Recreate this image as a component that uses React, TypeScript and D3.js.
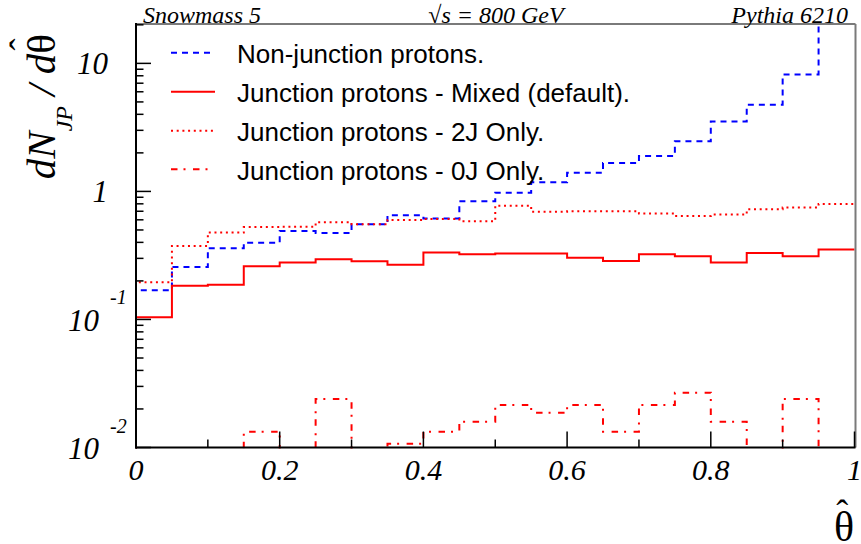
import React from "react";
import * as d3 from "d3";

const binEdges = [0, 0.05, 0.1, 0.15, 0.2, 0.25, 0.3, 0.35, 0.4, 0.45, 0.5, 0.55, 0.6, 0.65, 0.7, 0.75, 0.8, 0.85, 0.9, 0.95, 1.0];

const nonJunction = [0.169, 0.257, 0.36, 0.398, 0.491, 0.474, 0.553, 0.651, 0.614, 0.837, 0.978, 1.18, 1.4, 1.666, 1.89, 2.46, 3.52, 4.75, 8.19, 30];
const mixed = [0.104, 0.183, 0.187, 0.26, 0.279, 0.295, 0.285, 0.268, 0.333, 0.323, 0.328, 0.328, 0.304, 0.286, 0.323, 0.312, 0.279, 0.331, 0.312, 0.352];
const twoJOnly = [0.195, 0.375, 0.477, 0.528, 0.53, 0.574, 0.553, 0.598, 0.609, 0.586, 0.774, 0.694, 0.7, 0.7, 0.671, 0.643, 0.659, 0.725, 0.748, 0.798];
const zeroJOnly = [0, 0, 0, 0.0133, 0, 0.0239, 0, 0.0107, 0.0133, 0.0159, 0.0215, 0.0187, 0.0215, 0.0133, 0.0215, 0.0268, 0.0159, 0, 0.0239, 0];

const legendLabels = [
  "Non-junction protons.",
  "Junction protons - Mixed (default).",
  "Junction protons - 2J Only.",
  "Junction protons - 0J Only.",
];

const xTickValues = [0, 0.2, 0.4, 0.6, 0.8, 1];
const xTickLabels = ["0", "0.2", "0.4", "0.6", "0.8", "1"];
const xMinorTicks = [0.1, 0.3, 0.5, 0.7, 0.9];

const yTickValues = [0.01, 0.1, 1, 10];
const yTickBase = ["10", "10", "1", "10"];
const yTickExp = ["-2", "-1", "", ""];

const headerLeft = "Snowmass 5";
const headerMid = "\u221As = 800 GeV";
const headerRight = "Pythia 6210";

const W = 861;
const H = 544;
const X0 = 136;
const X1 = 854.5;
const Y0 = 24;
const Y1 = 447.5;

const SERIF = "'Liberation Serif', 'Times New Roman', serif";
const SANS = "'Liberation Sans', Arial, sans-serif";

export default function App() {
  const x = d3.scaleLinear().domain([0, 1]).range([X0, X1]);
  const y = d3.scaleLog().domain([0.01, 20.3]).range([Y1, Y0]).clamp(true);

  const yv = (v: number) => (v > 0 ? y(v) : Y1 + 3);

  const histPath = (vals: number[]) => {
    let d = `M${x(binEdges[0])},${Y1 + 3}`;
    vals.forEach((v, i) => {
      d += `V${yv(v)}H${x(binEdges[i + 1])}`;
    });
    return d;
  };

  const series = [
    { vals: nonJunction, color: "#0000ff", dash: "6,5" },
    { vals: mixed, color: "#ff0000", dash: "none" },
    { vals: twoJOnly, color: "#ff0000", dash: "2,3.7" },
    { vals: zeroJOnly, color: "#ff0000", dash: "6.5,6,2,7.5" },
  ];

  const yMinor: number[] = [];
  [0.01, 0.1, 1, 10].forEach((dec) => {
    for (let k = 2; k <= 9; k++) {
      const v = dec * k;
      if (v <= 20.3) yMinor.push(v);
    }
  });

  const legendRowY = [52.7, 91.7, 130.7, 169.3];

  return (
    <svg
      width={W}
      height={H}
      style={{ position: "absolute", left: 0, top: 0, background: "#fff" }}
    >
      <defs>
        <clipPath id="frameClip">
          <rect x={X0} y={Y0} width={X1 - X0 + 1} height={Y1 - Y0 + 1} />
        </clipPath>
      </defs>
      <rect x={0} y={0} width={W} height={H} fill="#fff" />

      <g clipPath="url(#frameClip)" fill="none">
        {series.map((s, i) => (
          <path
            key={i}
            d={histPath(s.vals)}
            stroke={s.color}
            strokeWidth={2}
            strokeDasharray={s.dash}
          />
        ))}
      </g>

      <line x1={X0} y1={Y0} x2={X1 + 1} y2={Y0} stroke="#7a7a7a" strokeWidth={2} />
      <line x1={X1 + 1} y1={Y0} x2={X1 + 1} y2={Y1} stroke="#7a7a7a" strokeWidth={2} />

      <line x1={X0} y1={Y0 - 1} x2={X0} y2={Y1 + 1} stroke="#000" strokeWidth={2} />
      <line x1={X0 - 1} y1={Y1} x2={X1 + 1} y2={Y1} stroke="#000" strokeWidth={2} />

      {yTickValues.map((v) => (
        <line key={"ym" + v} x1={X0} x2={X0 + 15} y1={y(v)} y2={y(v)} stroke="#000" strokeWidth={1.5} />
      ))}
      {yMinor.map((v) => (
        <line key={"yn" + v} x1={X0} x2={X0 + 7.5} y1={y(v)} y2={y(v)} stroke="#000" strokeWidth={1.5} />
      ))}

      {xTickValues.map((v) => (
        <line key={"xm" + v} x1={x(v)} x2={x(v)} y1={Y1} y2={Y1 - 16} stroke="#000" strokeWidth={1.5} />
      ))}
      {xMinorTicks.map((v) => (
        <line key={"xn" + v} x1={x(v)} x2={x(v)} y1={Y1} y2={Y1 - 8} stroke="#000" strokeWidth={1.5} />
      ))}

      <g fontFamily={SERIF} fontStyle="italic" fill="#000">
        {yTickValues.map((v, i) =>
          yTickExp[i] ? (
            <g key={"yl" + v}>
              <text x={99} y={y(v) + 11.5} fontSize={31} textAnchor="end">
                {yTickBase[i]}
              </text>
              <text x={110} y={y(v) - 15} fontSize={20} textAnchor="start">
                {yTickExp[i]}
              </text>
            </g>
          ) : (
            <text key={"yl" + v} x={108} y={y(v) + 11} fontSize={31} textAnchor="end">
              {yTickBase[i]}
            </text>
          )
        )}
      </g>

      <g fontFamily={SERIF} fontStyle="italic" fill="#000" fontSize={30} textAnchor="middle">
        {xTickValues.map((v, i) => (
          <text key={"xl" + v} x={x(v)} y={480}>
            {xTickLabels[i]}
          </text>
        ))}
      </g>

      <g fontFamily={SERIF} fontStyle="italic" fill="#000" fontSize={24}>
        <text x={143} y={23}>{headerLeft}</text>
        <text x={496} y={23} textAnchor="middle">{headerMid}</text>
        <text x={848} y={23} textAnchor="end">{headerRight}</text>
      </g>

      {/* y title with hat over theta */}
      <text
        transform="translate(55,34) rotate(-90)"
        textAnchor="end"
        fontFamily={SERIF}
        fontStyle="italic"
        fontSize={41}
        fill="#000"
      >
        dN
        <tspan fontSize={24} dy={17}>JP</tspan>
        <tspan dy={-17}> / d</tspan>
        <tspan fontStyle="normal">θ</tspan>
        <tspan fontStyle="normal" fontSize={36} dx={-16.5} dy={-20}>ˆ</tspan>
      </text>

      {/* x title with hat */}
      <text x={834} y={541} fontFamily={SERIF} fontSize={42} fill="#000">
        θ
        <tspan fontSize={36} dx={-18} dy={-16}>ˆ</tspan>
      </text>

      {legendLabels.map((lab, i) => (
        <g key={"lg" + i}>
          <line
            x1={171}
            x2={215}
            y1={legendRowY[i]}
            y2={legendRowY[i]}
            stroke={series[i].color}
            strokeWidth={2}
            strokeDasharray={series[i].dash}
          />
          <text x={237} y={legendRowY[i] + 10.5} fontFamily={SANS} fontSize={26} fill="#000">
            {lab}
          </text>
        </g>
      ))}
    </svg>
  );
}
